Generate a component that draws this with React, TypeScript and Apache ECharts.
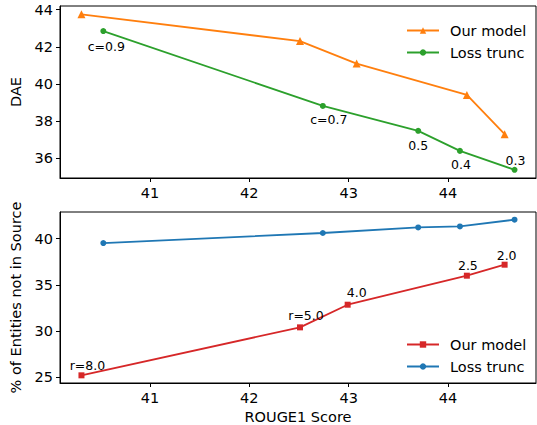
import React, { useEffect, useRef } from "react";
import * as echarts from "echarts";

const ourXTop = [40.31, 42.51, 43.08, 44.19, 44.57];
const ourDAE = [43.75, 42.31, 41.1, 39.41, 37.3];
const lossX = [40.53, 42.74, 43.7, 44.12, 44.67];
const lossDAE = [42.85, 38.82, 37.48, 36.4, 35.38];
const ourXBot = [40.31, 42.51, 42.99, 44.19, 44.57];
const ourEnt = [25.22, 30.41, 32.86, 36.0, 37.19];
const lossEnt = [39.53, 40.62, 41.22, 41.33, 42.06];
const lossLabels = ["c=0.9", "c=0.7", "0.5", "0.4", "0.3"];
const ourLabels = ["r=8.0", "r=5.0", "4.0", "2.5", "2.0"];
const xTicks = [41, 42, 43, 44];
const daeTicks = [36, 38, 40, 42, 44];
const entTicks = [25, 30, 35, 40];

// label offsets (styling)
const lossLabelOffsets = [[3, 15], [6, 14], [0, 15], [1, 14], [1, -9]];
const ourLabelOffsets = [[6, -10], [6, -12], [9, -12], [1, -10], [2, -9]];

const FONT = "DejaVu Sans";
const ORANGE = "#ff7f0e";
const GREEN = "#2ca02c";
const RED = "#d62728";
const BLUE = "#1f77b4";

function pts(xs: number[], ys: number[], labels?: string[], offs?: number[][]) {
  return xs.map((x, i) => {
    const item: any = { value: [x, ys[i]] };
    if (labels) {
      item.label = {
        show: true,
        formatter: labels[i],
        position: "inside",
        offset: offs ? offs[i] : [0, 0],
        fontFamily: FONT,
        fontSize: 12.5,
        color: "#000",
        align: "center",
        verticalAlign: "middle",
      };
    }
    return item;
  });
}

function xAxisCfg(gridIndex: number, withName: boolean) {
  return {
    type: "value",
    gridIndex,
    min: 40.094,
    max: 44.886,
    name: withName ? "ROUGE1 Score" : "",
    nameLocation: "middle",
    nameGap: 26,
    nameTextStyle: { fontFamily: FONT, fontSize: 14.5, color: "#000" },
    axisLine: { show: true, lineStyle: { color: "#000", width: 1 } },
    axisTick: { show: true, inside: false, length: 4, customValues: xTicks, lineStyle: { color: "#000" } },
    axisLabel: { customValues: xTicks, fontFamily: FONT, fontSize: 14.5, color: "#000", margin: 7 },
    splitLine: { show: false },
  };
}

function yAxisCfg(gridIndex: number, name: string, min: number, max: number, ticks: number[], gap: number) {
  return {
    type: "value",
    gridIndex,
    min,
    max,
    name,
    nameLocation: "middle",
    nameGap: gap,
    nameTextStyle: { fontFamily: FONT, fontSize: 14.5, color: "#000" },
    axisLine: { show: true, lineStyle: { color: "#000", width: 1 } },
    axisTick: { show: true, inside: false, length: 4, customValues: ticks, lineStyle: { color: "#000" } },
    axisLabel: { customValues: ticks, fontFamily: FONT, fontSize: 14.5, color: "#000", margin: 7 },
    splitLine: { show: false },
  };
}

function lineSeries(name: string, idx: number, color: string, symbol: string, size: number, data: any[]) {
  return {
    type: "line",
    name,
    xAxisIndex: idx,
    yAxisIndex: idx,
    data,
    symbol,
    symbolSize: size,
    showAllSymbol: true,
    itemStyle: { color },
    lineStyle: { color, width: 1.8 },
    emphasis: { disabled: true },
  };
}

function legendCfg(top: number, data: string[], strip: (n: string) => string) {
  return {
    orient: "vertical",
    left: 401,
    top,
    itemWidth: 32,
    itemHeight: 8,
    itemGap: 5,
    data,
    formatter: strip,
    textStyle: { fontFamily: FONT, fontSize: 14.5, color: "#000", padding: [0, 0, 0, 6], lineHeight: 17 },
  };
}

export default function App() {
  const ref = useRef<HTMLDivElement>(null);
  useEffect(() => {
    if (!ref.current) return;
    const chart = echarts.init(ref.current, undefined, { renderer: "svg" });
    const strip = (n: string) => n.replace(/^(top|bot):/, "");
    chart.setOption({
      animation: false,
      backgroundColor: "#fff",
      grid: [
        { left: 60, top: 6, width: 476, height: 172, show: true, borderColor: "#000", borderWidth: 1, containLabel: false },
        { left: 60, top: 212, width: 476, height: 171, show: true, borderColor: "#000", borderWidth: 1, containLabel: false },
      ],
      xAxis: [xAxisCfg(0, false), xAxisCfg(1, true)],
      yAxis: [
        yAxisCfg(0, "DAE", 34.94, 44.2, daeTicks, 29),
        yAxisCfg(1, "% of Entities not in Source", 24.39, 42.89, entTicks, 29),
      ],
      legend: [
        legendCfg(17, ["top:Our model", "top:Loss trunc"], strip),
        legendCfg(331, ["bot:Our model", "bot:Loss trunc"], strip),
      ],
      series: [
        lineSeries("top:Our model", 0, ORANGE, "triangle", 8, pts(ourXTop, ourDAE)),
        lineSeries("top:Loss trunc", 0, GREEN, "circle", 6, pts(lossX, lossDAE, lossLabels, lossLabelOffsets)),
        lineSeries("bot:Our model", 1, RED, "rect", 6, pts(ourXBot, ourEnt, ourLabels, ourLabelOffsets)),
        lineSeries("bot:Loss trunc", 1, BLUE, "circle", 6, pts(lossX, lossEnt)),
      ],
    });
    return () => chart.dispose();
  }, []);
  return <div ref={ref} style={{ position: "absolute", left: 0, top: 0, width: 537, height: 425 }} />;
}
